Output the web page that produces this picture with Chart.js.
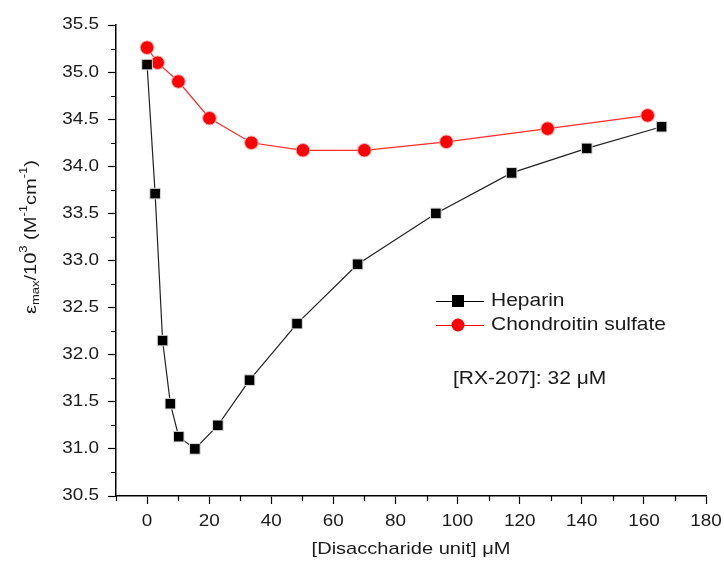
<!DOCTYPE html>
<html>
<head>
<meta charset="utf-8">
<script src="https://cdn.jsdelivr.net/npm/chart.js@4/dist/chart.umd.min.js"></script>
<style>
  html, body { margin: 0; padding: 0; background: #fff; }
  #wrap { width: 724px; height: 570px; }
</style>
</head>
<body>
<div id="wrap"><canvas id="chart" width="724" height="570"></canvas></div>
<script>
// data
const heparinX = [0, 2.6, 5.0, 7.5, 10.2, 15.4, 22.8, 33, 48.3, 67.8, 93, 117.4, 141.6, 165.7];
const heparinY = [35.08, 33.71, 32.15, 31.48, 31.13, 31.00, 31.25, 31.73, 32.33, 32.96, 33.50, 33.93, 34.19, 34.42];
const chondroitinX = [0, 3.4, 10.1, 20.1, 33.6, 50.2, 70, 96.4, 129, 161.2];
const chondroitinY = [35.26, 35.10, 34.90, 34.51, 34.25, 34.17, 34.17, 34.26, 34.40, 34.54];

const xTicks = [0, 20, 40, 60, 80, 100, 120, 140, 160, 180];
const yTicks = [30.5, 31.0, 31.5, 32.0, 32.5, 33.0, 33.5, 34.0, 34.5, 35.0, 35.5];
const xMinor = [-10, 10, 30, 50, 70, 90, 110, 130, 150, 170];
const yMinor = [30.75, 31.25, 31.75, 32.25, 32.75, 33.25, 33.75, 34.25, 34.75, 35.25];

const seriesNames = ["Heparin", "Chondroitin sulfate"];
const noteText = "[RX-207]: 32 \u03bcM";
const xTitle = "[Disaccharide unit] \u03bcM";

const FONT = "'Liberation Sans', Arial, sans-serif";
const TEXT = "#1a1a1a";
// the original font is a bit wider than Arial
const WIDE = 1.18;

function toPoints(xs, ys) {
    return xs.map((x, i) => ({ x: x, y: ys[i] }));
}

function wideText(ctx, text, x, y, size, align) {
    ctx.save();
    ctx.font = size + "px " + FONT;
    ctx.textAlign = align;
    ctx.textBaseline = "middle";
    ctx.fillStyle = TEXT;
    ctx.translate(x, y);
    ctx.scale(WIDE, 1);
    ctx.fillText(text, 0, 0);
    ctx.restore();
}

const extras = {
    id: "extras",
    afterDraw(chart) {
        const ctx = chart.ctx;
        const xs = chart.scales.x, ys = chart.scales.y;
        const area = chart.chartArea;
        ctx.save();

        // minor ticks
        ctx.strokeStyle = "#000";
        ctx.lineWidth = 1.2;
        ctx.beginPath();
        xMinor.forEach(v => {
            const px = Math.round(xs.getPixelForValue(v)) + 0.5;
            ctx.moveTo(px, area.bottom);
            ctx.lineTo(px, area.bottom + 5);
        });
        yMinor.forEach(v => {
            const py = Math.round(ys.getPixelForValue(v)) + 0.5;
            ctx.moveTo(area.left, py);
            ctx.lineTo(area.left - 5, py);
        });
        ctx.stroke();

        // tick labels
        xTicks.forEach(v => wideText(ctx, String(v), xs.getPixelForValue(v), area.bottom + 26, 16, "center"));
        yTicks.forEach(v => wideText(ctx, v.toFixed(1), area.left - 17, ys.getPixelForValue(v), 16, "right"));
        wideText(ctx, xTitle, (area.left + area.right) / 2, 549, 17, "center");

        // legend
        const lx = 436, ly = [301, 325];
        const styles = [
            { color: "#000", shape: "rect" },
            { color: "#ff0000", shape: "circle" }
        ];
        styles.forEach((s, i) => {
            const y = ly[i];
            ctx.strokeStyle = s.color;
            ctx.lineWidth = 1.2;
            ctx.beginPath();
            ctx.moveTo(lx, y + 0.5); ctx.lineTo(lx + 48, y + 0.5);
            ctx.stroke();
            ctx.fillStyle = s.color;
            if (s.shape === "rect") {
                ctx.fillRect(lx + 16, y - 6, 12, 12);
            } else {
                ctx.beginPath();
                ctx.arc(lx + 22, y, 6.5, 0, Math.PI * 2);
                ctx.fill();
            }
            wideText(ctx, seriesNames[i], lx + 55, y, 17.8, "left");
        });
        wideText(ctx, noteText, 453, 379, 17.8, "left");

        // y title with sub/superscripts
        const parts = [
            { t: "\u03b5", s: 17, dy: 0 },
            { t: "max", s: 11, dy: 5 },
            { t: "/10", s: 17, dy: 0 },
            { t: "3", s: 11, dy: -7 },
            { t: " (M", s: 17, dy: 0 },
            { t: "-1", s: 11, dy: -7 },
            { t: "cm", s: 17, dy: 0 },
            { t: "-1", s: 11, dy: -7 },
            { t: ")", s: 17, dy: 0 }
        ];
        let w = 0;
        parts.forEach(p => { ctx.font = p.s + "px " + FONT; p.w = ctx.measureText(p.t).width; w += p.w; });
        ctx.translate(31, 237);
        ctx.rotate(-Math.PI / 2);
        ctx.scale(WIDE, 1);
        let cx = -w / 2;
        ctx.fillStyle = TEXT;
        ctx.textBaseline = "middle";
        ctx.textAlign = "left";
        parts.forEach(p => {
            ctx.font = p.s + "px " + FONT;
            ctx.fillText(p.t, cx, p.dy);
            cx += p.w;
        });
        ctx.restore();
    }
};

new Chart(document.getElementById("chart").getContext("2d"), {
    type: "line",
    data: {
        datasets: [
            {
                label: seriesNames[0],
                data: toPoints(heparinX, heparinY),
                borderColor: "#222",
                backgroundColor: "#000",
                borderWidth: 1.2,
                pointStyle: "rect",
                pointRadius: 7.5,
                pointBorderColor: "#ddd",
                pointBorderWidth: 1,
                tension: 0
            },
            {
                label: seriesNames[1],
                data: toPoints(chondroitinX, chondroitinY),
                borderColor: "#ff2a2a",
                backgroundColor: "#ff0000",
                borderWidth: 1.2,
                pointStyle: "circle",
                pointRadius: 6.8,
                pointBorderColor: "#ffb0b0",
                pointBorderWidth: 1,
                tension: 0
            }
        ]
    },
    options: {
        responsive: false,
        animation: false,
        layout: { padding: { left: 0, right: 18, top: 25, bottom: 0 } },
        plugins: {
            legend: { display: false },
            tooltip: { enabled: false }
        },
        scales: {
            x: {
                type: "linear",
                min: -10,
                max: 180,
                afterBuildTicks: s => { s.ticks = xTicks.map(v => ({ value: v })); },
                afterFit: s => { s.height = 74; },
                border: { display: true, color: "#000", width: 1.5 },
                grid: { drawOnChartArea: false, drawTicks: true, tickLength: 8, tickColor: "#000", tickWidth: 1.2 },
                ticks: { display: false }
            },
            y: {
                type: "linear",
                min: 30.5,
                max: 35.5,
                afterBuildTicks: s => { s.ticks = yTicks.map(v => ({ value: v })); },
                afterFit: s => { s.width = 116; },
                border: { display: true, color: "#000", width: 1.5 },
                grid: { drawOnChartArea: false, drawTicks: true, tickLength: 8, tickColor: "#000", tickWidth: 1.2 },
                ticks: { display: false }
            }
        }
    },
    plugins: [extras]
});
</script>
</body>
</html>
